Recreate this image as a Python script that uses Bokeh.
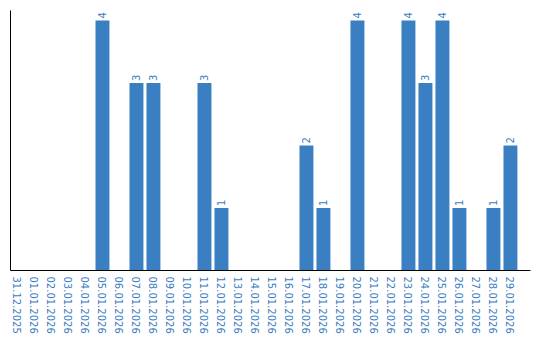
import math
from bokeh.plotting import figure
from bokeh.models import ColumnDataSource, Range1d, FixedTicker, LinearAxis
from bokeh.core.properties import value
from bokeh.embed import file_html
from bokeh.resources import INLINE

dates = ["31.12.2025", "01.01.2026", "02.01.2026", "03.01.2026", "04.01.2026",
         "05.01.2026", "06.01.2026", "07.01.2026", "08.01.2026", "09.01.2026",
         "10.01.2026", "11.01.2026", "12.01.2026", "13.01.2026", "14.01.2026",
         "15.01.2026", "16.01.2026", "17.01.2026", "18.01.2026", "19.01.2026",
         "20.01.2026", "21.01.2026", "22.01.2026", "23.01.2026", "24.01.2026",
         "25.01.2026", "26.01.2026", "27.01.2026", "28.01.2026", "29.01.2026"]
counts = [0, 0, 0, 0, 0, 4, 0, 3, 3, 0, 0, 3, 1, 0, 0,
          0, 0, 2, 1, 0, 4, 0, 0, 4, 3, 4, 1, 0, 1, 2]

BAR = "#3a7fc1"
TXT = "#3a7dc0"

idx = list(range(len(dates)))
nz = [i for i in idx if counts[i] > 0]
src = ColumnDataSource(dict(x=idx, top=counts))
lab = ColumnDataSource(dict(x=nz, y=[counts[i] for i in nz], t=[str(counts[i]) for i in nz]))

p = figure(width=540, height=340, output_backend="svg", toolbar_location=None,
           x_range=Range1d(-0.41, 30.18), y_range=Range1d(0, 4.16),
           min_border_left=10, min_border_right=10, min_border_top=10,
           min_border_bottom=70, y_axis_location=None, x_axis_location=None)
p.outline_line_color = None
p.grid.visible = False
p.background_fill_color = "white"
p.border_fill_color = "white"

p.vbar(x="x", top="top", bottom=0, width=0.82, source=src, color=BAR, line_color=None)
p.text(x="x", y="y", text="t", source=lab, angle=math.pi / 2, text_align="left",
       text_baseline="middle", y_offset=-2, text_color=TXT,
       text_font=value("DejaVu Sans"), text_font_size="10px")

xa = LinearAxis(ticker=FixedTicker(ticks=idx),
                major_label_overrides={i: d for i, d in enumerate(dates)})
xa.major_label_orientation = "vertical"
xa.major_tick_line_color = None
xa.minor_tick_line_color = None
xa.major_tick_out = 0
xa.major_tick_in = 0
xa.major_label_standoff = 6
xa.major_label_text_color = TXT
xa.major_label_text_font = "DejaVu Sans"
xa.major_label_text_font_size = "10px"
xa.axis_line_color = "black"
p.add_layout(xa, "below")

ya = LinearAxis(ticker=FixedTicker(ticks=[]))
ya.major_tick_line_color = None
ya.minor_tick_line_color = None
ya.major_label_text_font_size = "0px"
ya.major_label_standoff = 0
ya.axis_line_color = "black"
p.add_layout(ya, "left")

open("out.html", "w").write(file_html(p, INLINE))
